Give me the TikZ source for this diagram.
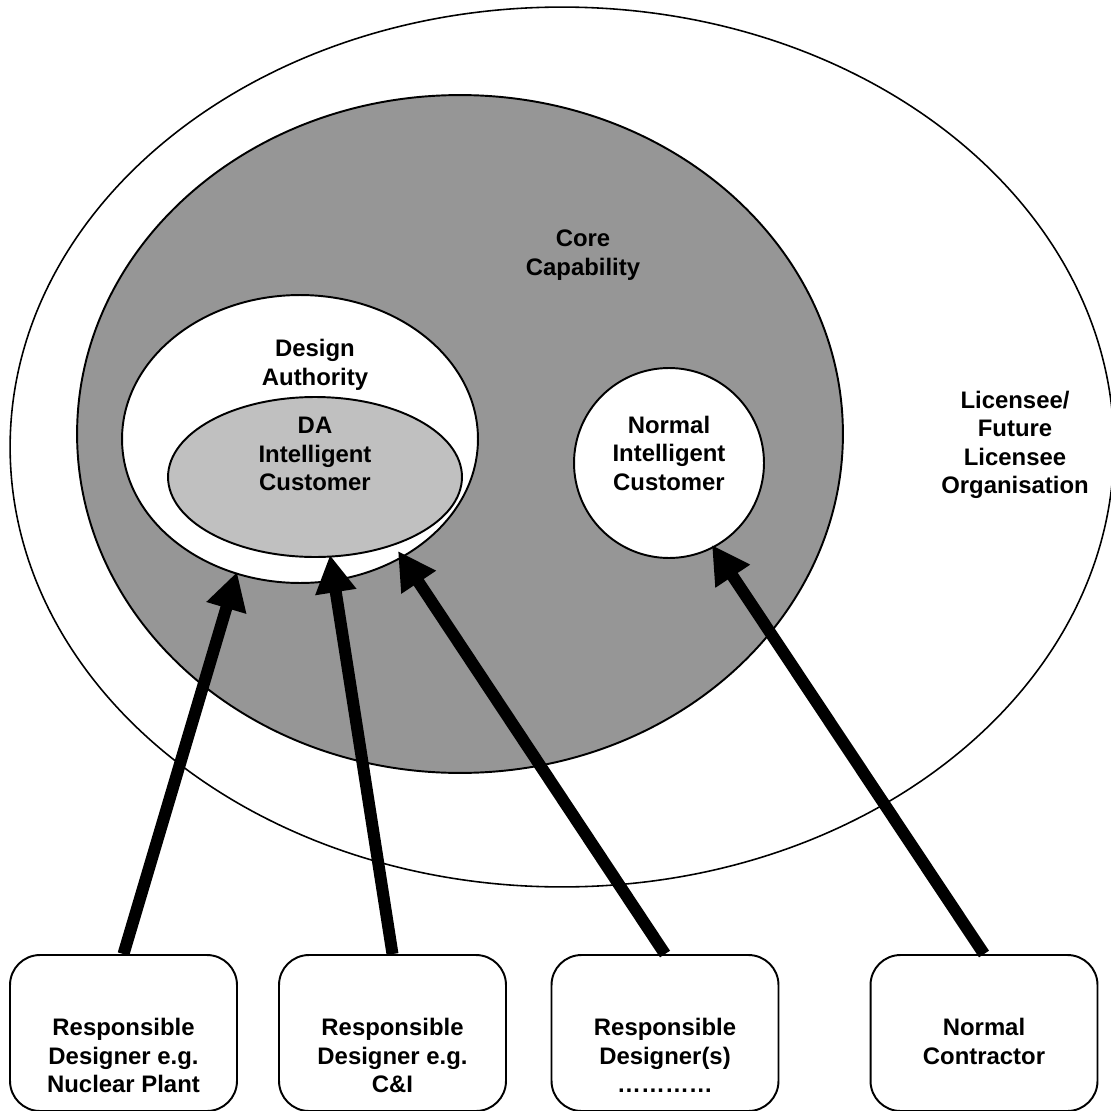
\documentclass[tikz,border=0pt]{standalone}
\usepackage{fontspec}
\setmainfont{Liberation Sans}
\usetikzlibrary{positioning}
\usetikzlibrary{shapes.geometric}
\usetikzlibrary{arrows.meta}

\definecolor{coregray}{RGB}{150,150,150}
\definecolor{icgray}{RGB}{192,192,192}

\tikzset{
  ring/.style={ellipse, draw, line width=1.1pt, inner sep=0pt},
  lbl/.style={font=\fontsize{13.6}{16.2}\selectfont\bfseries, align=center, inner sep=0pt},
  rdbox/.style={draw, line width=1.1pt, rounded corners=0.6cm,
    minimum width=4.54cm, minimum height=3.12cm, fill=white},
  feed/.style={line width=0.24cm, -{Triangle[length=0.75cm,width=0.78cm]}}
}

\begin{document}
\begin{tikzpicture}[x=0.02cm, y=-0.02cm]
    \useasboundingbox (0,0) rectangle (1111,1111);
    \clip (0,0) rectangle (1111,1111);

    % organisation and its capabilities
    \node[ring, line width=0.9pt, minimum width=22.08cm, minimum height=17.6cm] (org) at (562,447) {};
    \node[ring, fill=coregray, minimum width=15.32cm, minimum height=13.56cm] (core) at (460,434) {};
    \node[ring, fill=white, minimum width=7.12cm, minimum height=5.76cm] (da) at (300,439) {};
    \node[ring, fill=icgray, minimum width=5.88cm, minimum height=3.2cm] (daic) at (315,477) {};
    \node[ring, circle, fill=white, minimum size=3.8cm] (nic) at (669,463) {};

    \node[lbl] (corelbl) at (583,255) {Core\\Capability};
    \node[lbl] (dalbl) at (315,365) {Design\\Authority};
    \node[lbl] (daiclbl) at (315,454) {DA\\Intelligent\\Customer};
    \node[lbl] (niclbl) at (669,453) {Normal\\Intelligent\\Customer};
    \node[lbl] (orglbl) at (1015,445) {Licensee/\\Future\\Licensee\\Organisation};

    % suppliers
    \node[rdbox] (rdnp) at (123.5,1033) {};
    \node[rdbox] (rdci) at (392.5,1033) {};
    \node[rdbox] (rdmore) at (665,1033) {};
    \node[rdbox] (contr) at (984,1033) {};

    \node[lbl, below=1.28cm of rdnp.north] (rdnplbl) {Responsible\\Designer e.g.\\Nuclear Plant};
    \node[lbl, below=1.28cm of rdci.north] (rdcilbl) {Responsible\\Designer e.g.\\C\&I};
    \node[lbl, below=1.28cm of rdmore.north] (rdmorelbl) {Responsible\\Designer(s)\\…………};
    \node[lbl, below=1.28cm of contr.north] (contrlbl) {Normal\\Contractor};

    % arrow tips
    \coordinate (tnp) at (237,572);
    \coordinate (tci) at (330,555);
    \coordinate (tmore) at (398,551);
    \coordinate (tcontr) at (712,545);

    \draw[feed] (rdnp.north) -- (tnp);
    \draw[feed] (rdci.north) -- (tci);
    \draw[feed] (rdmore.north) -- (tmore);
    \draw[feed] (contr.north) -- (tcontr);
\end{tikzpicture}
\end{document}
